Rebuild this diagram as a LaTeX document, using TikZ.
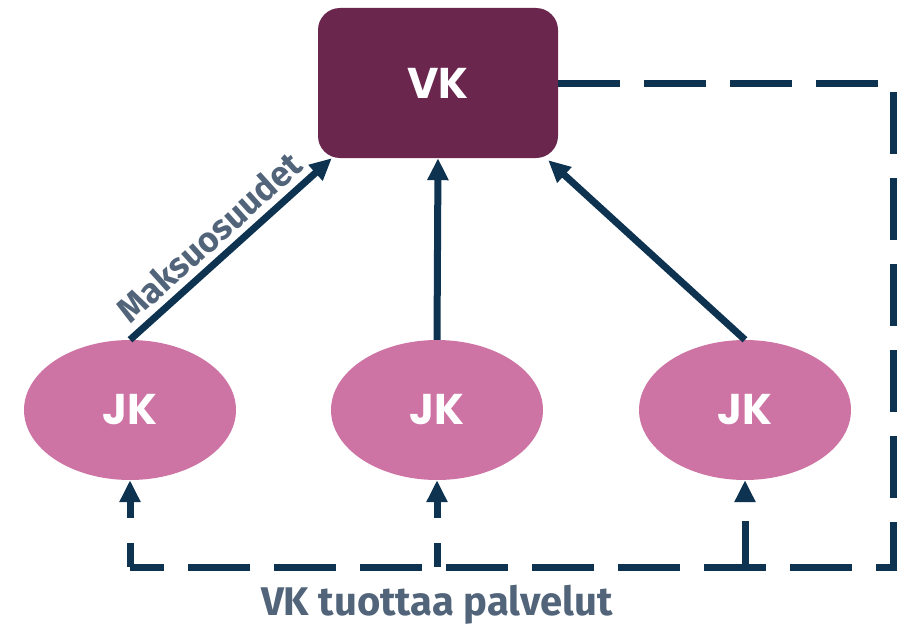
\documentclass[tikz,border=0pt]{standalone}
\usepackage{fontspec}
\setmainfont{Fira Sans}
\newfontfamily\boxfont{Poppins}
\usetikzlibrary{shapes.geometric, arrows.meta}
\definecolor{vkpurple}{HTML}{6B264E}
\definecolor{jkpink}{HTML}{CE74A4}
\definecolor{linkblue}{HTML}{0E3350}
\definecolor{labelgrey}{HTML}{516479}
\tikzstyle{vkbox}=[rectangle, rounded corners=22pt, fill=vkpurple, text=white, minimum width=240pt, minimum height=150pt, font=\boxfont\bfseries\fontsize{43}{50}\selectfont]
\tikzstyle{jkblob}=[ellipse, fill=jkpink, text=white, minimum width=212pt, minimum height=140pt, inner sep=0pt, font=\boxfont\bfseries\fontsize{43}{50}\selectfont]
\tikzstyle{paylink}=[line width=7pt, linkblue, -{Triangle[width=20pt,length=22pt]}]
\tikzstyle{servicelink}=[line width=7pt, linkblue, dash pattern=on 62pt off 24pt]
\tikzstyle{labeltext}=[text=labelgrey, font=\bfseries\fontsize{35}{40}\selectfont]

\begin{document}
\begin{tikzpicture}[x=1pt, y=-1pt]
\useasboundingbox (0,0) rectangle (904,626);
% Units
    \node[vkbox] (vk) at (438,83) {VK};
    \node[jkblob] (jk1) at (130,410) {JK};
    \node[jkblob] (jk2) at (437,410) {JK};
    \node[jkblob] (jk3) at (745,410) {JK};
% Payments
    \draw[paylink] (jk1.north) -- ([xshift=14pt]vk.south west)
        node[labeltext, pos=0.47, sloped, above=3pt] {Maksuosuudet};
    \draw[paylink] (jk2.north) -- (vk.south);
    \draw[paylink] (jk3.north) -- ([xshift=-10pt,yshift=-2pt]vk.south east);
% Services
    \coordinate (ne) at (893,83);
    \coordinate (se) at (893,567);
    \coordinate (sw) at (jk1.south |- se);
    \draw[servicelink] (vk.east) -- (ne) -- (se) -- (sw);
    \draw[servicelink, dash pattern=on 24pt off 25pt, -{Triangle[width=20pt,length=22pt]}] (sw) -- (jk1.south);
    \draw[servicelink, dash pattern=on 24pt off 25pt, -{Triangle[width=20pt,length=22pt]}] (jk2.south |- se) -- (jk2.south);
    \draw[servicelink, dash pattern=on 46pt off 25pt, -{Triangle[width=20pt,length=22pt]}] (jk3.south |- se) -- (jk3.south);
    \node[labeltext, font=\bfseries\fontsize{40}{46}\selectfont] (service) at (437,605) {VK tuottaa palvelut};
\end{tikzpicture}
\end{document}
